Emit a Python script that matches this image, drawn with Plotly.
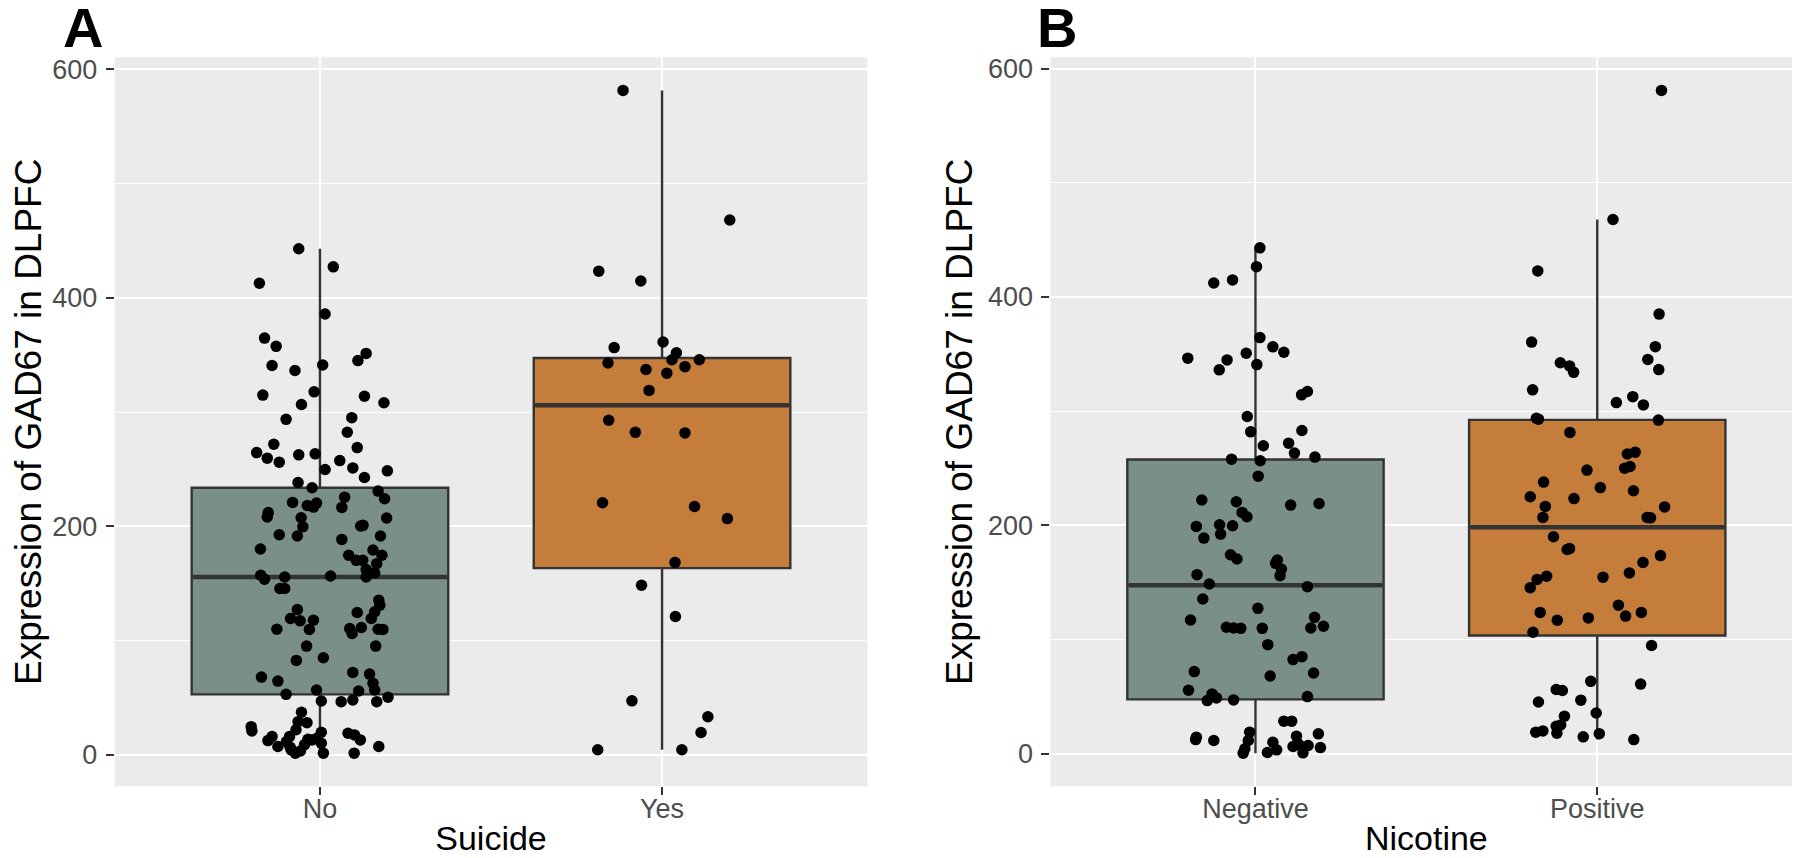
import numpy as np
import plotly.graph_objects as go

# ---------------- data ----------------
suicide_labels = ["No", "Yes"]
nicotine_labels = ["Negative", "Positive"]

suicide_no_values = [
    443.0, 427.2, 412.8, 385.9, 364.8, 357.6, 351.4, 345.1, 340.8, 341.3, 336.5, 317.8, 314.9, 313.9, 306.7, 308.2,
    293.7, 295.2, 282.4, 271.9, 269.0, 264.6, 259.7, 256.2, 262.6, 263.5, 257.6, 249.8, 251.2, 248.6, 242.8, 238.4,
    233.8, 230.9, 224.2, 221.0, 218.3, 220.4, 216.9, 225.6, 216.6, 212.2, 208.2, 207.6, 199.7, 207.3, 200.3, 200.9,
    192.7, 191.6, 188.6, 191.6, 180.2, 179.3, 174.7, 174.7, 170.3, 170.3, 167.4, 162.2, 159.2, 157.2, 153.7, 155.7,
    156.6, 155.7, 145.6, 145.6, 135.4, 131.0, 125.2, 119.4, 127.2, 119.4, 117.3, 117.9, 110.0, 109.8, 124.6, 110.6,
    106.3, 111.5, 110.0, 109.8, 95.2, 95.2, 82.7, 85.0, 68.1, 64.6, 72.2, 70.7, 62.6, 56.8, 55.9, 53.0,
    56.8, 47.2, 46.6, 48.0, 46.6, 50.4, 37.3, 29.1, 28.2, 24.7, 21.0, 16.0, 16.0, 19.8, 13.7, 14.6,
    7.3, 6.7, 3.5, 1.5, 1.5, 18.9, 17.5, 13.1, 1.5, 7.3, 13.1, 12.5, 11.6, 4.4, 10.2, 9.0, 22.0,
]
suicide_no_jitter = [
    -0.062, 0.039, -0.177, 0.015, -0.162, -0.128, 0.135, 0.111, -0.140, 0.008, -0.073, -0.017, -0.167, 0.130, -0.054, 0.187,
    -0.099, 0.093, 0.080, -0.135, 0.109, -0.185, -0.154, -0.119, -0.062, -0.014, 0.058, 0.015, 0.096, 0.197, 0.130, -0.064,
    -0.023, 0.170, 0.189, -0.080, -0.037, -0.010, -0.019, 0.072, 0.064, -0.151, -0.154, -0.055, -0.050, 0.195, 0.119, 0.126,
    -0.119, -0.066, 0.064, 0.177, -0.174, 0.155, 0.181, 0.084, 0.106, 0.125, 0.166, 0.135, 0.160, -0.173, -0.162, -0.103,
    0.031, 0.135, -0.117, -0.103, 0.172, 0.175, 0.160, 0.150, -0.066, -0.086, -0.058, -0.019, -0.126, -0.031, 0.109, 0.087,
    0.094, 0.121, 0.170, 0.184, -0.039, 0.163, -0.069, 0.010, -0.171, -0.123, 0.096, 0.145, 0.155, 0.160, 0.113, -0.099,
    -0.010, 0.004, 0.062, 0.096, 0.166, 0.199, -0.054, -0.064, -0.038, -0.201, -0.199, -0.140, -0.089, 0.004, -0.035, -0.009,
    -0.123, -0.087, -0.057, -0.072, 0.010, 0.082, 0.101, 0.118, 0.100, 0.172, -0.023, -0.152, -0.098, -0.084, 0.004, -0.045, -0.070,
]

suicide_yes_values = [
    581.6, 468.2, 423.4, 414.8, 361.4, 356.5, 352.0, 343.0, 345.9, 345.9, 337.3, 339.8, 334.1, 319.0,
    292.9, 282.3, 281.8, 220.7, 217.4, 206.8, 168.5, 148.5, 121.1, 47.3, 33.4, 19.6, 4.5, 4.5,
]
suicide_yes_jitter = [
    -0.114, 0.198, -0.185, -0.062, 0.003, -0.140, 0.042, -0.158, 0.029, 0.109, -0.047, 0.067, 0.014, -0.038,
    -0.156, -0.078, 0.067, -0.174, 0.095, 0.191, 0.038, -0.060, 0.039, -0.088, 0.134, 0.114, -0.188, 0.058,
]

nicotine_neg_values = [
    443.0, 426.5, 412.2, 414.9, 364.4, 356.3, 351.6, 350.7, 346.4, 344.9, 336.2, 340.8, 314.3, 317.2, 295.3, 281.9,
    283.1, 269.7, 272.0, 263.3, 258.0, 256.6, 259.8, 243.1, 222.2, 220.7, 217.8, 219.2, 211.4, 207.6, 199.1, 200.6,
    199.7, 188.9, 192.4, 174.3, 170.6, 169.7, 161.8, 166.8, 156.0, 156.9, 148.7, 146.4, 135.6, 127.4, 117.2, 119.5,
    110.8, 110.2, 109.9, 109.9, 110.2, 111.7, 95.6, 82.5, 85.1, 72.0, 68.2, 70.8, 55.7, 52.5, 49.0, 46.6,
    47.2, 50.1, 28.6, 28.6, 14.6, 12.5, 11.7, 19.0, 11.7, 4.4, 0.6, 10.2, 1.2, 3.5, 15.5, 8.7,
    5.8, 0.9, 7.3, 17.5, 5.5, 6.4,
]
nicotine_neg_jitter = [
    0.013, 0.003, -0.122, -0.067, 0.013, 0.051, 0.083, -0.027, -0.198, -0.083, -0.106, 0.004, 0.135, 0.152, -0.024, -0.014,
    0.136, 0.023, 0.097, 0.114, -0.070, 0.014, 0.174, 0.008, -0.157, -0.056, 0.103, 0.186, -0.039, -0.025, -0.173, -0.105,
    -0.067, -0.151, -0.102, -0.073, -0.054, 0.064, 0.076, 0.059, 0.072, -0.171, -0.135, 0.152, -0.154, 0.007, -0.190, 0.173,
    -0.085, -0.064, -0.043, 0.020, 0.162, 0.199, 0.036, 0.110, 0.136, -0.179, 0.043, 0.170, -0.196, -0.127, -0.114, -0.141,
    -0.064, 0.152, 0.083, 0.106, -0.173, -0.175, -0.122, -0.017, -0.021, -0.031, -0.036, 0.051, 0.035, 0.062, 0.120, 0.125,
    0.139, 0.139, 0.154, 0.184, 0.190, 0.110,
]

nicotine_pos_values = [
    580.8, 467.8, 422.8, 385.0, 360.5, 356.5, 342.4, 339.6, 334.0, 345.3, 336.4, 318.7, 307.5, 312.7, 305.5, 293.8,
    292.2, 281.4, 262.5, 264.1, 250.0, 251.6, 248.4, 237.9, 233.1, 230.3, 225.1, 223.5, 216.6, 207.0, 216.2, 207.0,
    206.6, 293.0, 190.1, 178.9, 179.7, 173.6, 167.6, 155.5, 152.7, 145.5, 154.7, 158.4, 130.2, 120.6, 123.8, 123.8,
    117.0, 119.0, 106.5, 94.9, 63.5, 61.1, 56.3, 55.5, 45.4, 47.0, 33.0, 35.8, 18.9, 20.1, 24.1, 25.3,
    18.1, 14.9, 17.7, 12.5,
]
nicotine_pos_jitter = [
    0.188, 0.046, -0.174, 0.181, -0.192, 0.170, -0.108, -0.081, -0.069, 0.148, 0.180, -0.189, 0.056, 0.104, 0.135, -0.178,
    0.179, -0.080, 0.088, 0.111, 0.080, 0.096, -0.030, -0.157, 0.009, 0.106, -0.196, -0.068, -0.152, -0.159, 0.197, 0.146,
    0.156, -0.172, -0.128, -0.088, -0.081, 0.185, 0.134, -0.148, -0.176, -0.196, 0.017, 0.094, 0.062, 0.083, 0.129, -0.167,
    -0.117, -0.026, -0.188, 0.159, -0.019, 0.127, -0.120, -0.102, -0.172, -0.048, -0.096, -0.003, -0.180, -0.159, -0.120, -0.107,
    -0.118, -0.041, 0.006, 0.107,
]

y_title = "Expression of GAD67 in DLPFC"
panel_labels = ["A", "B"]
x_titles = ["Suicide", "Nicotine"]
y_ticks = [0, 200, 400, 600]

# ---------------- styling ----------------
FILL = ["#7A8F87", "#C47D3A"]
LINE = "#333333"
FONT = "Liberation Sans, Arial, sans-serif"
BOX_W = 0.75

fig = go.Figure()


def add_group(values, pos, color, xa, ya):
    v = np.asarray(values, dtype=float)
    q1, med, q3 = np.percentile(v, [25, 50, 75])
    iqr = q3 - q1
    lo = v[v >= q1 - 1.5 * iqr].min()
    hi = v[v <= q3 + 1.5 * iqr].max()
    fig.add_trace(go.Box(
        x=[pos], q1=[q1], median=[med], q3=[q3], lowerfence=[lo], upperfence=[hi],
        width=BOX_W, whiskerwidth=0, fillcolor=color,
        line=dict(color=LINE, width=2.4), boxpoints=False,
        xaxis=xa, yaxis=ya, showlegend=False, hoverinfo="skip",
    ))
    # thick median line (ggplot fatten = 2)
    fig.add_trace(go.Scatter(
        x=[pos - BOX_W / 2 + 0.004, pos + BOX_W / 2 - 0.004], y=[med, med], mode="lines",
        line=dict(color=LINE, width=4.5), xaxis=xa, yaxis=ya, showlegend=False, hoverinfo="skip",
    ))


def add_points(values, jitter, pos, xa, ya):
    xs = [pos + j for j in jitter]
    fig.add_trace(go.Scatter(
        x=xs, y=values, mode="markers",
        marker=dict(color="black", size=11.5, line=dict(width=0)),
        xaxis=xa, yaxis=ya, showlegend=False,
    ))


groups_A = [(suicide_no_values, suicide_no_jitter), (suicide_yes_values, suicide_yes_jitter)]
groups_B = [(nicotine_neg_values, nicotine_neg_jitter), (nicotine_pos_values, nicotine_pos_jitter)]

for i, (vals, jit) in enumerate(groups_A):
    add_group(vals, i + 1, FILL[i], "x", "y")
for i, (vals, jit) in enumerate(groups_B):
    add_group(vals, i + 1, FILL[i], "x2", "y2")
for i, (vals, jit) in enumerate(groups_A):
    add_points(vals, jit, i + 1, "x", "y")
for i, (vals, jit) in enumerate(groups_B):
    add_points(vals, jit, i + 1, "x2", "y2")

all_a = np.concatenate([np.asarray(g[0], float) for g in groups_A])
all_b = np.concatenate([np.asarray(g[0], float) for g in groups_B])


def yrange(arr):
    mn, mx = arr.min(), arr.max()
    pad = 0.05 * (mx - mn)
    return [mn - pad, mx + pad]


W, H = 1800, 858
dom_y = [1 - 778.3 / H, 1 - 49.3 / H]
dom_xa = [106.7 / W, 859.3 / W]
dom_xb = [1042.4 / W, 1794.3 / W]

tickfont = dict(family=FONT, size=27, color="#4D4D4D")
xtitlefont = dict(family=FONT, size=34, color="black")
ytitlefont = dict(family=FONT, size=37, color="black")


def xaxis_cfg(dom, labels, title, anchor):
    return dict(
        domain=dom, range=[0.4, 2.6], tickvals=[1, 2], ticktext=labels,
        showgrid=True, gridcolor="white", gridwidth=2.2, zeroline=False,
        ticks="outside", ticklen=8, tickwidth=2, tickcolor="#333333",
        tickfont=tickfont, ticklabelstandoff=-10,
        title=dict(text=title, font=xtitlefont, standoff=3),
        anchor=anchor, showline=False, fixedrange=True,
    )


def yaxis_cfg(rng, anchor):
    return dict(
        domain=dom_y, range=rng, tickvals=y_ticks,
        showgrid=True, gridcolor="white", gridwidth=2.2, zeroline=False,
        minor=dict(dtick=100, tick0=0, showgrid=True, gridcolor="white", gridwidth=1.1, ticks=""),
        ticks="outside", ticklen=8, tickwidth=2, tickcolor="#333333",
        tickfont=tickfont, ticklabelstandoff=3,
        title=dict(text=y_title, font=ytitlefont, standoff=3),
        anchor=anchor, showline=False, fixedrange=True,
    )


fig.update_layout(
    width=W, height=H,
    margin=dict(l=0, r=0, t=0, b=0, autoexpand=False),
    paper_bgcolor="white", plot_bgcolor="#EBEBEB",
    font=dict(family=FONT),
    xaxis=xaxis_cfg(dom_xa, suicide_labels, x_titles[0], "y"),
    yaxis=yaxis_cfg(yrange(all_a), "x"),
    xaxis2=xaxis_cfg(dom_xb, nicotine_labels, x_titles[1], "y2"),
    yaxis2=yaxis_cfg(yrange(all_b), "x2"),
    showlegend=False,
)

for lab, xpos in zip(panel_labels, [53 / W, 1027 / W]):
    fig.add_annotation(
        text="<b>%s</b>" % lab, x=xpos, y=1 + 14 / H, xref="paper", yref="paper",
        xanchor="left", yanchor="top", showarrow=False,
        font=dict(family=FONT, size=56, color="black"),
    )

fig.write_html("out.html")
